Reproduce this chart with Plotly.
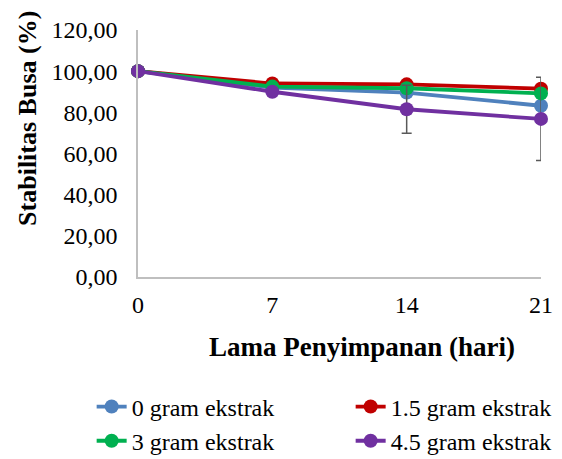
import plotly.graph_objects as go

days = [0, 7, 14, 21]
series_names = ["0 gram ekstrak", "1.5 gram ekstrak", "3 gram ekstrak", "4.5 gram ekstrak"]
val_0 = [100.0, 92.0, 89.6, 83.2]
val_15 = [100.0, 94.0, 93.6, 91.5]
val_3 = [100.0, 92.5, 91.7, 89.2]
val_45 = [100.0, 90.0, 81.5, 76.8]
err_45 = [0.0, 0.0, 11.7, 20.2]
colors = ["#4F81BD", "#C00000", "#00B050", "#7030A0"]
y_ticks = [0, 20, 40, 60, 80, 100, 120]
y_ticktext = ["0,00", "20,00", "40,00", "60,00", "80,00", "100,00", "120,00"]
x_ticktext = ["0", "7", "14", "21"]
x_title = "Lama Penyimpanan (hari)"
y_title = "Stabilitas Busa (%)"

font_family = "Liberation Serif, Times New Roman, serif"

fig = go.Figure()
all_vals = [val_0, val_15, val_3, val_45]
for i, (name, vals) in enumerate(zip(series_names, all_vals)):
    kw = {}
    if i == 3:
        kw["error_y"] = dict(type="data", array=err_45, visible=True,
                             color="#595959", thickness=1.5, width=5)
    fig.add_trace(go.Scatter(
        x=days, y=vals, name=name, mode="lines+markers",
        line=dict(color=colors[i], width=3.8),
        marker=dict(color=colors[i], size=14),
        cliponaxis=False, **kw))

fig.add_annotation(text="<b>" + x_title + "</b>", xref="paper", yref="paper",
                   x=0.5546, y=-0.283, xanchor="center", yanchor="middle",
                   showarrow=False, font=dict(size=27))
fig.add_annotation(text="<b>" + y_title + "</b>", xref="paper", yref="paper",
                   x=-0.273, y=0.644, xanchor="center", yanchor="middle",
                   textangle=-90, showarrow=False, font=dict(size=26))

fig.update_layout(
    width=562, height=459,
    margin=dict(l=130, r=29, t=22, b=190, autoexpand=False),
    plot_bgcolor="white", paper_bgcolor="white",
    font=dict(family=font_family, size=24, color="black"),
    showlegend=True,
    legend=dict(orientation="h", x=-0.115, xanchor="left", y=-0.435, yanchor="top",
                entrywidth=214, font=dict(size=24), itemwidth=30,
                tracegroupgap=0, borderwidth=0),
    xaxis=dict(range=[0, 21], tickvals=days, ticktext=x_ticktext,
               showgrid=False, zeroline=False, showline=True,
               linecolor="#BFBFBF", linewidth=1.5, ticks="",
               ticklabelstandoff=5),
    yaxis=dict(range=[0, 120], tickvals=y_ticks, ticktext=y_ticktext,
               showgrid=False, zeroline=False, showline=True,
               linecolor="#BFBFBF", linewidth=1.5, ticks="",
               ticklabelstandoff=14),
)

fig.write_html("out.html")
